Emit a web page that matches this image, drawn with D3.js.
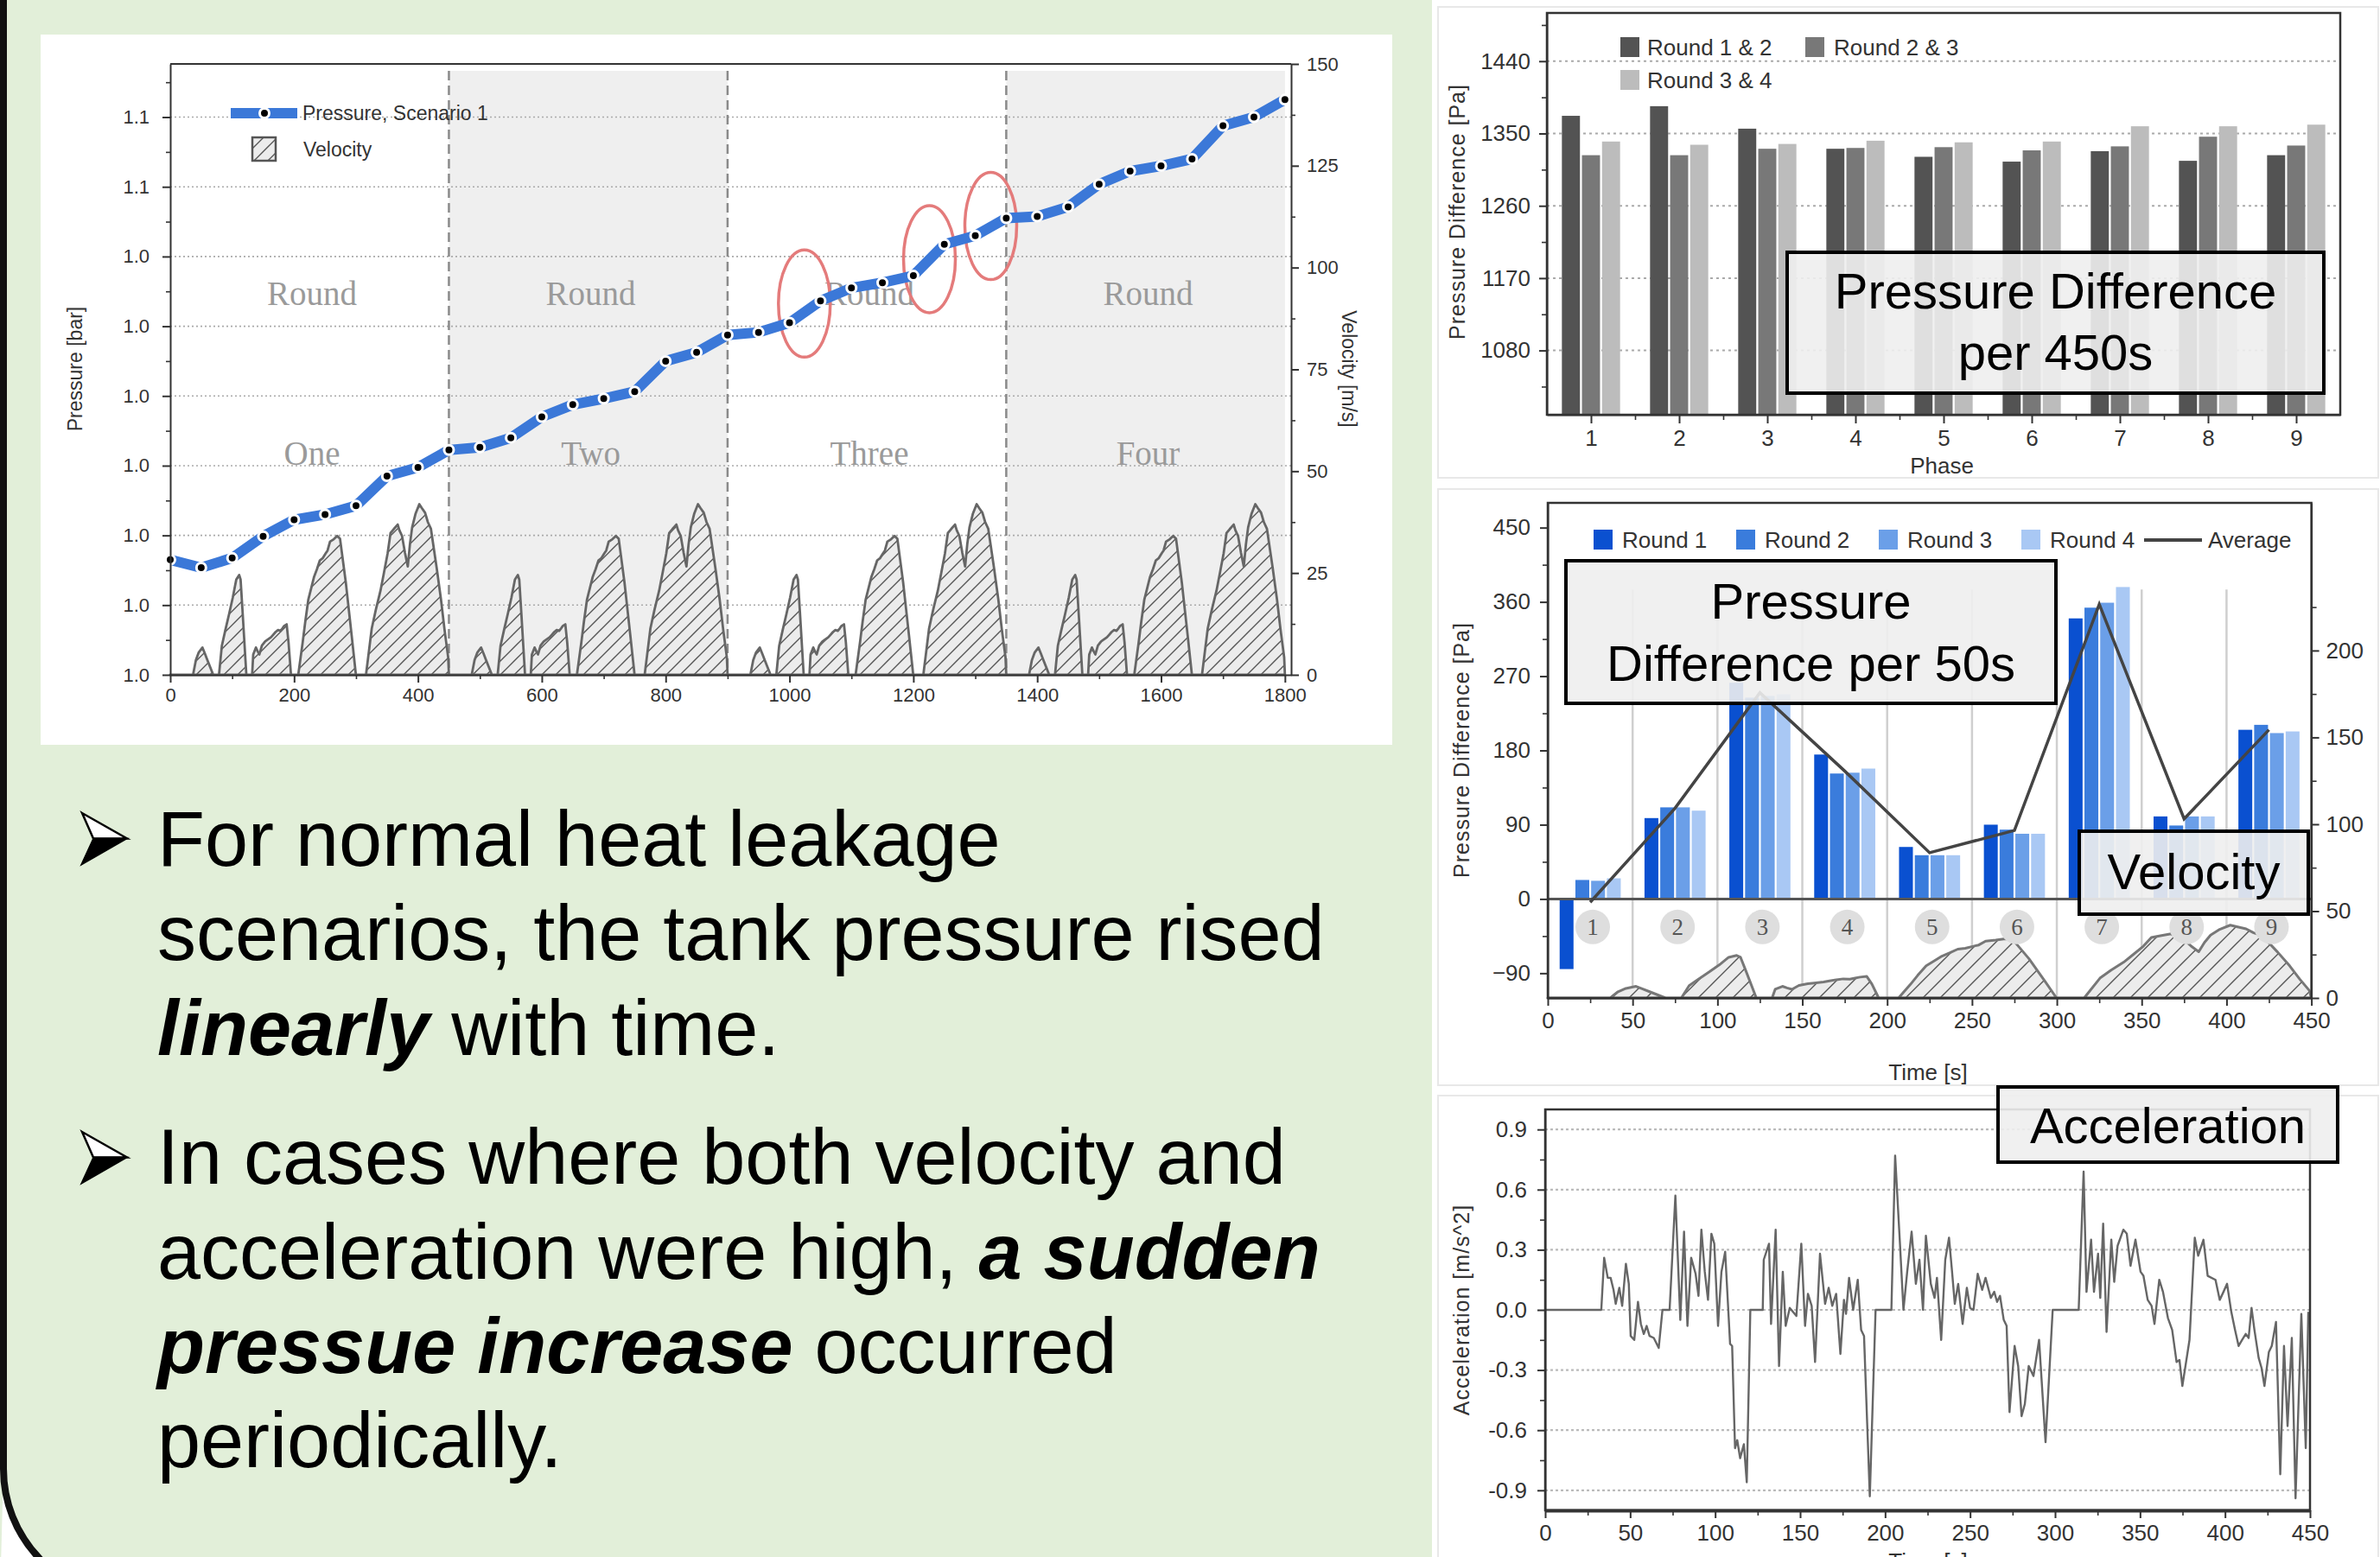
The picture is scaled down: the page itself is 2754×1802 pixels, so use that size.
<!DOCTYPE html>
<meta charset="UTF-8">
<html>
<head>
<style>
html, body {
  margin:0;
  padding:0;
  background:#fff;
}
svg {
  display:block;
}
</style>
</head>
<body>
<svg width="2754" height="1802"></svg>
<script src="https://d3js.org/d3.v7.min.js"></script>
<script>
var SANS = "'Liberation Sans', Arial, Helvetica, sans-serif";
var SERIF = "'Liberation Serif', 'Times New Roman', serif";

// ---- main chart: pressure (scenario 1) + velocity ----
var pressureTime = [0,50,100,150,200,250,300,350,400,450,500,550,600,650,700,750,800,850,900,
  950,1000,1050,1100,1150,1200,1250,1300,1350,1400,1450,1500,1550,1600,1650,1700,1750,1800];
var pressureBar = [1.0132,1.0123,1.0134,1.0159,1.0178,1.0184,1.0194,1.0228,1.0238,1.0258,
  1.0261,1.0272,1.0296,1.0310,1.0317,1.0325,1.0360,1.0370,1.0390,
  1.0393,1.0404,1.0429,1.0444,1.0450,1.0458,1.0494,1.0504,1.0524,
  1.0526,1.0537,1.0563,1.0578,1.0584,1.0592,1.0630,1.0640,1.0660];
var pressureTicks = [1.000,1.008,1.016,1.024,1.032,1.040,1.048,1.056,1.064];
var pressureTickLabels = ["1.0","1.0","1.0","1.0","1.0","1.0","1.0","1.1","1.1"];
var velocityTicks = [0,25,50,75,100,125,150];
var mainXTicks = [0,200,400,600,800,1000,1200,1400,1600,1800];
var roundStarts = [0,450,900,1350];
var roundNames = ["One","Two","Three","Four"];
// one round of the velocity profile [s, m/s]; every round repeats it
var velocityProfile = [[0,0],[36.8,0],[41.4,3.6],[46,5.5],[52,6.7],[56,5.2],[60,3.6],[69.4,0],
  [78.7,0],[83.3,7.1],[89,11],[95,14.9],[101,19],[106.6,23.4],[111.3,24.5],[113.6,23.4],[117,15],[122.9,0],
  [132.2,0],[134,5],[138.3,6.7],[141,5.8],[143.9,5.0],[148,7.2],[153.2,8.2],[157,8.6],[162.5,9.2],[166,9.8],
  [170,10.5],[174.1,11],[178,10.8],[181.1,11.4],[184,12],[188,12.4],[191,8],[195,0],
  [206.7,0],[213.7,7.8],[218,13],[223,18.5],[228,21.5],[232.3,24.1],[237,26],[241.6,28.1],[246,28.6],
  [250.9,29.8],[254,30.5],[258,32.7],[264,33.3],[269.6,34.1],[274.2,33.4],[283.5,22.7],[292.8,9.9],[299.8,0],
  [316.1,0],[325.4,11.4],[332,16],[339.4,20.6],[345,25],[351,29.8],[355.7,34.8],[361,35.8],[367.3,36.9],
  [370,35.5],[374.3,34.1],[379,30],[383.6,26.6],[387,32],[390.6,36.2],[396,39.5],[402.2,41.9],[406,41],
  [411.5,39.8],[416,37.5],[420.9,35.9],[430.2,26.3],[437.2,18.5],[443,11],[448.8,4.3],[450,0]];
// highlighted jumps (centre time, centre pressure)
var jumpTime = [1024,1226,1325];
var jumpBar = [1.0426,1.0477,1.0515];

// ---- top right: pressure difference per 450 s ----
var phases = [1,2,3,4,5,6,7,8,9];
var diff12 = [1372,1384,1356,1331,1321,1315,1328,1316,1323];
var diff23 = [1323,1323,1331,1332,1333,1329,1334,1346,1335];
var diff34 = [1340,1336,1337,1341,1339,1340,1359,1359,1361];
var pairNames = ["Round 1 & 2","Round 2 & 3","Round 3 & 4"];
var pairColors = ["#535353","#787878","#bcbcbc"];
var diffTicks = [1080,1170,1260,1350,1440];

// ---- middle right: pressure difference per 50 s ----
var phaseCentre = [25,75,125,175,225,275,325,375,425];
var round1 = [-85,98,262,175,63,90,340,100,205];
var round2 = [23,111,244,152,53,84,353,89,211];
var round3 = [22,111,246,153,53,79,359,100,201];
var round4 = [25,107,248,158,53,79,378,100,203];
var average = [-4,110,250,155,56,83,357,97,205];
var roundLabels = ["Round 1","Round 2","Round 3","Round 4"];
var roundColors = ["#0a50d0","#3a7cdc","#6b9fe8","#a9c8f4"];
var diff50Ticks = [-90,0,90,180,270,360,450];
var vel2Ticks = [0,50,100,150,200];
var timeTicks = [0,50,100,150,200,250,300,350,400,450];

// ---- bottom right: acceleration [s, m/s^2] ----
var accel = [[0,0],[33,0],[34.7,0.26],[36.8,0.16],[38.5,0.16],[40.2,0.10],[41.5,0.03],[43.6,0.11],[45.3,0.02],
  [47.5,0.23],[49.2,0.13],[50.3,-0.13],[52.4,-0.15],[54.6,0.04],[56.3,-0.07],[58,-0.12],[59.7,-0.08],[61.4,-0.13],
  [63.9,-0.14],[66.8,-0.19],[69,0],[73.2,0],[76.6,0.57],[79.5,-0.05],[81.7,0.39],[83.7,-0.08],[85.9,0.26],
  [88.5,0.18],[90.2,0.07],[91.9,0.40],[93.9,0.19],[95.8,0.05],[97.8,0.38],[99.5,0.33],[101.7,-0.08],[103.7,0.19],
  [105.9,0.29],[108.8,-0.17],[110,-0.18],[111.7,-0.69],[113,-0.65],[114.7,-0.74],[116.9,-0.67],[118.6,-0.86],
  [120.7,0],[128,0],[128.6,0.25],[131.7,0.33],[132.9,-0.07],[135.6,0.40],[137.6,-0.28],[139.8,0.19],[141.5,-0.08],
  [143.9,0.01],[147.8,-0.03],[150.7,0.33],[152.9,-0.08],[154.6,0.08],[156.8,0.02],[158.8,-0.26],[161.7,0.28],
  [164.7,0.03],[166.8,0.11],[168.9,0.02],[171.2,0.08],[173.7,-0.22],[175.8,0.05],[177,-0.02],[178.8,0.16],
  [181.2,0],[183.9,0.15],[185.9,-0.10],[187.6,-0.13],[191,-0.93],[194.4,0],[203.7,0],[205.9,0.77],[208.8,0.32],
  [210.8,0],[213,0.19],[215.6,0.39],[218.1,0.13],[220.2,0.25],[222.3,0],[224,0.37],[226.9,0.13],[229.1,0.06],
  [230.5,0.16],[233,-0.15],[235.4,0.25],[237.6,0.36],[239.3,0.20],[241,0.03],[243,0.13],[245.6,-0.07],[248.1,0.11],
  [250,0.01],[252,0],[254.5,0.18],[257.1,0.10],[259.1,0.16],[262.2,0.06],[264.2,0.09],[265.9,0.04],[267.6,0.07],
  [269.8,-0.05],[271.5,-0.08],[273.2,-0.51],[276.2,-0.18],[278.3,-0.28],[280.3,-0.53],[282.2,-0.47],[284.5,-0.28],
  [287.3,-0.33],[290.6,-0.15],[294.4,-0.66],[298.6,0],[313.9,0],[316.8,0.69],[318.5,0.09],[321.2,0.35],[322.9,0.09],
  [325.3,0.28],[326.6,0.06],[328.3,0.43],[330.3,-0.11],[333.1,0.35],[334.8,0.14],[336.8,0.32],[340.2,0.40],
  [342.2,0.38],[344.4,0.22],[347.3,0.35],[350.3,0.19],[352,0.17],[354.5,0.05],[356.8,0.02],[358.5,-0.07],
  [361.3,0.15],[363.5,0.09],[366.4,-0.04],[368.9,-0.10],[371.5,-0.26],[373.2,-0.25],[374.9,-0.38],[379.1,-0.15],
  [382.2,0.36],[384.2,0.27],[387.3,0.35],[389.8,0.17],[394.4,0.15],[396.9,0.05],[399.1,0.09],[401.2,0.13],
  [403.7,-0.01],[405.9,-0.10],[408,-0.18],[410,-0.15],[412.2,-0.12],[413.9,-0.14],[415.6,0.01],[417.3,-0.10],
  [419.8,-0.24],[421.5,-0.29],[423.2,-0.38],[425.8,-0.21],[427.5,-0.18],[430,-0.06],[432.5,-0.82],[434.7,-0.18],
  [436.8,-0.58],[439.3,-0.14],[441.5,-0.94],[444.9,-0.02],[447.5,-0.69],[449,-0.01]];
var accelTicks = [-0.9,-0.6,-0.3,0,0.3,0.6,0.9];

var svg = d3.select("svg");
var plain = d3.format("d");

// hatch patterns for the velocity areas
var defs = svg.append("defs");
function hatch(id, s) {
  var p = defs.append("pattern").attr("id", id).attr("patternUnits", "userSpaceOnUse")
    .attr("width", s).attr("height", s);
  p.append("rect").attr("width", s).attr("height", s).attr("fill", "#ececec");
  p.append("path").attr("d", "M-2,2 l4,-4 M0," + s + " l" + s + ",-" + s + " M" + (s - 2) + "," + (s + 2) + " l4,-4")
    .attr("stroke", "#555").attr("stroke-width", 1.4);
}
hatch("hatch", 16);
hatch("hatch2", 20);

function addAxis(axis, x, y, fs) {
  var g = svg.append("g").attr("transform", "translate(" + x + "," + y + ")").call(axis.tickSizeOuter(0));
  g.attr("font-family", SANS).attr("font-size", fs);
  g.select(".domain").attr("stroke", "#333").attr("stroke-width", 2);
  g.selectAll(".tick line").attr("stroke", "#333").attr("stroke-width", 2);
  g.selectAll(".tick text").attr("fill", "#333");
  return g;
}
function addMinor(axis, x, y) {
  var g = svg.append("g").attr("transform", "translate(" + x + "," + y + ")").call(axis.tickFormat(""));
  g.select(".domain").remove();
  g.selectAll(".tick line").attr("stroke", "#333").attr("stroke-width", 1.6);
}
function midpoints(a) {
  var out = [];
  for (var i = 0; i < a.length - 1; i++) out.push((a[i] + a[i + 1]) / 2);
  return out;
}
function labelBox(x, y, w, h, lines, baselines) {
  svg.append("rect").attr("x", x).attr("y", y).attr("width", w).attr("height", h)
    .attr("fill", "rgba(238,238,238,0.9)").attr("stroke", "#000").attr("stroke-width", 4);
  lines.forEach(function(t, i) {
    svg.append("text").attr("x", x + w / 2).attr("y", baselines[i]).attr("text-anchor", "middle")
      .attr("font-family", SANS).attr("font-size", 58).attr("fill", "#000").text(t);
  });
}

// ---------- backgrounds ----------
svg.append("rect").attr("width", 2754).attr("height", 1802).attr("fill", "#fff");
svg.append("path").attr("d", "M4,0 H1657 V1802 H0 V1700 Z").attr("fill", "#e2efd9");
svg.append("path").attr("d", "M4,1700 A150,150 0 0 0 154,1850 H0 Z").attr("fill", "#fff");
svg.append("path").attr("d", "M4,0 V1700 A150,150 0 0 0 154,1850")
  .attr("fill", "none").attr("stroke", "#111").attr("stroke-width", 8);
[[1664,8,1088,545],[1664,566,1088,690],[1664,1268,1088,560]].forEach(function(r) {
  svg.append("rect").attr("x", r[0]).attr("y", r[1]).attr("width", r[2]).attr("height", r[3])
    .attr("fill", "#fff").attr("stroke", "#e8e8e8").attr("stroke-width", 2);
});

// ---------- main chart ----------
svg.append("rect").attr("x", 47).attr("y", 40).attr("width", 1564).attr("height", 822).attr("fill", "#fff");
var mx = d3.scaleLinear().domain([0, 1810]).range([197, 1494]);
var mp = d3.scaleLinear().domain([1.0, 1.0701]).range([781, 74]);
var mv = d3.scaleLinear().domain([0, 150]).range([781, 74]);

[450, 1350].forEach(function(s) {
  svg.append("rect").attr("x", mx(s)).attr("y", 82).attr("width", mx(Math.min(s + 450, 1810)) - mx(s))
    .attr("height", mv(0) - 82).attr("fill", "#efefef");
});
svg.append("g").selectAll("line").data(pressureTicks.slice(1)).join("line")
  .attr("x1", mx(0)).attr("x2", mx(1810)).attr("y1", mp).attr("y2", mp)
  .attr("stroke", "#aaa").attr("stroke-width", 1.6).attr("stroke-dasharray", "2,3");
svg.append("g").selectAll("line").data(roundStarts.slice(1)).join("line")
  .attr("x1", mx).attr("x2", mx).attr("y1", 82).attr("y2", mv(0))
  .attr("stroke", "#8a8a8a").attr("stroke-width", 2.5).attr("stroke-dasharray", "11,6");
roundStarts.forEach(function(s, i) {
  var cx = mx(s + 229);
  svg.append("text").attr("x", cx).attr("y", 353).attr("text-anchor", "middle")
    .attr("font-family", SERIF).attr("font-size", 39).attr("fill", "#9a9a9a").text("Round");
  svg.append("text").attr("x", cx).attr("y", 538).attr("text-anchor", "middle")
    .attr("font-family", SERIF).attr("font-size", 39).attr("fill", "#9a9a9a").text(roundNames[i]);
});

var velocityAll = [];
roundStarts.forEach(function(s) {
  velocityProfile.forEach(function(d) { velocityAll.push([s + d[0], d[1]]); });
});
svg.append("path").datum(velocityAll)
  .attr("d", d3.area().x(function(d) { return mx(d[0]); }).y0(mv(0)).y1(function(d) { return mv(d[1]); }))
  .attr("fill", "url(#hatch)").attr("stroke", "#666").attr("stroke-width", 2.8).attr("stroke-linejoin", "round");

svg.append("g").selectAll("ellipse").data(jumpTime).join("ellipse")
  .attr("cx", function(d) { return mx(d); }).attr("cy", function(d, i) { return mp(jumpBar[i]); })
  .attr("rx", 30).attr("ry", 62).attr("fill", "none").attr("stroke", "#e47b7b").attr("stroke-width", 3.5);

var pressurePts = pressureTime.map(function(t, i) { return [t, pressureBar[i]]; });
svg.append("path").datum(pressurePts)
  .attr("d", d3.line().x(function(d) { return mx(d[0]); }).y(function(d) { return mp(d[1]); }))
  .attr("fill", "none").attr("stroke", "#3b78d8").attr("stroke-width", 12);
svg.append("g").selectAll("circle").data(pressurePts).join("circle")
  .attr("cx", function(d) { return mx(d[0]); }).attr("cy", function(d) { return mp(d[1]); })
  .attr("r", 5.5).attr("fill", "#000").attr("stroke", "#fff").attr("stroke-width", 3);

svg.append("line").attr("x1", mx(0)).attr("x2", mx(1810)).attr("y1", 74).attr("y2", 74)
  .attr("stroke", "#333").attr("stroke-width", 2);
addAxis(d3.axisBottom(mx).tickValues(mainXTicks).tickFormat(plain).tickSize(9).tickPadding(6), 0, 781, 22);
addMinor(d3.axisBottom(mx).tickValues(midpoints(mainXTicks)).tickSize(5), 0, 781);
addAxis(d3.axisLeft(mp).tickValues(pressureTicks).tickFormat(function(d, i) { return pressureTickLabels[i]; })
  .tickSize(9).tickPadding(15), 197, 0, 22);
addMinor(d3.axisLeft(mp).tickValues(midpoints(pressureTicks).concat([1.068])).tickSize(5), 197, 0);
addAxis(d3.axisRight(mv).tickValues(velocityTicks).tickFormat(plain).tickSize(9).tickPadding(9), mx(1810), 0, 22);
addMinor(d3.axisRight(mv).tickValues(midpoints(velocityTicks)).tickSize(5), mx(1810), 0);
svg.append("text").attr("transform", "translate(95,427) rotate(-90)").attr("text-anchor", "middle")
  .attr("font-family", SANS).attr("font-size", 23).attr("fill", "#333").text("Pressure [bar]");
svg.append("text").attr("transform", "translate(1553,427) rotate(90)").attr("text-anchor", "middle")
  .attr("font-family", SANS).attr("font-size", 23).attr("fill", "#333").text("Velocity [m/s]");

// legend
svg.append("line").attr("x1", 267).attr("x2", 344).attr("y1", 131).attr("y2", 131)
  .attr("stroke", "#3b78d8").attr("stroke-width", 12);
svg.append("circle").attr("cx", 306).attr("cy", 131).attr("r", 5.5).attr("fill", "#000")
  .attr("stroke", "#fff").attr("stroke-width", 3);
svg.append("text").attr("x", 350).attr("y", 139).attr("font-family", SANS).attr("font-size", 23)
  .attr("fill", "#333").text("Pressure, Scenario 1");
svg.append("rect").attr("x", 292).attr("y", 159).attr("width", 27).attr("height", 27)
  .attr("fill", "url(#hatch)").attr("stroke", "#555").attr("stroke-width", 2.5);
svg.append("text").attr("x", 351).attr("y", 181).attr("font-family", SANS).attr("font-size", 23)
  .attr("fill", "#333").text("Velocity");

// ---------- bullet text ----------
function bullet(x, y) {
  var g = svg.append("g").attr("transform", "translate(" + x + "," + y + ")");
  g.append("path").attr("d", "M2,2 L54,31.5 L15,31.5 Z").attr("fill", "#fff").attr("stroke", "#000")
    .attr("stroke-width", 2.5).attr("stroke-linejoin", "miter");
  g.append("path").attr("d", "M15,31.5 L54,31.5 L1,62 Z").attr("fill", "#000").attr("stroke", "#000")
    .attr("stroke-width", 1.5);
}
bullet(93, 939);
bullet(93, 1308);
var textLines = [
  [1002, [["For normal heat leakage", false]]],
  [1111, [["scenarios, the tank pressure rised", false]]],
  [1221, [["linearly", true], [" with time.", false]]],
  [1370, [["In cases where both velocity and", false]]],
  [1480, [["acceleration were high, ", false], ["a sudden", true]]],
  [1589, [["pressue increase", true], [" occurred", false]]],
  [1698, [["periodically.", false]]]
];
textLines.forEach(function(l) {
  var t = svg.append("text").attr("x", 182).attr("y", l[0]).attr("font-family", SANS)
    .attr("font-size", 90).attr("fill", "#000").attr("xml:space", "preserve").style("white-space", "pre");
  l[1].forEach(function(p) {
    var s = t.append("tspan").text(p[0]);
    if (p[1]) s.attr("font-weight", "bold").attr("font-style", "italic");
  });
});

// ---------- top right: per 450 s ----------
var tx = d3.scaleLinear().domain([0.5, 9.5]).range([1790, 2708]);
var ty = d3.scaleLinear().domain([1000, 1500]).range([480, 15]);
var pairBand = d3.scaleBand().domain([0, 1, 2]).range([-0.33, 0.33]).paddingInner(0.1);
svg.append("g").selectAll("line").data(diffTicks).join("line")
  .attr("x1", tx(0.5)).attr("x2", tx(9.5)).attr("y1", ty).attr("y2", ty)
  .attr("stroke", "#aaa").attr("stroke-width", 2).attr("stroke-dasharray", "3,4");
[diff12, diff23, diff34].forEach(function(series, k) {
  svg.append("g").selectAll("rect").data(series).join("rect")
    .attr("x", function(d, i) { return tx(phases[i] + pairBand(k)); })
    .attr("width", tx(pairBand.bandwidth()) - tx(0))
    .attr("y", function(d) { return ty(d); })
    .attr("height", function(d) { return ty(1000) - ty(d); })
    .attr("fill", pairColors[k]);
});
svg.append("rect").attr("x", tx(0.5)).attr("y", ty(1500)).attr("width", tx(9.5) - tx(0.5))
  .attr("height", ty(1000) - ty(1500)).attr("fill", "none").attr("stroke", "#333").attr("stroke-width", 2.5);
addAxis(d3.axisBottom(tx).tickValues(phases).tickFormat(plain).tickSize(10).tickPadding(8), 0, ty(1000), 26);
addMinor(d3.axisBottom(tx).tickValues(midpoints(phases)).tickSize(6), 0, ty(1000));
addAxis(d3.axisLeft(ty).tickValues(diffTicks).tickFormat(plain).tickSize(9).tickPadding(10), tx(0.5), 0, 26);
addMinor(d3.axisLeft(ty).tickValues([1035, 1125, 1215, 1305, 1395, 1485]).tickSize(6), tx(0.5), 0);
svg.append("text").attr("transform", "translate(1695,245) rotate(-90)").attr("text-anchor", "middle")
  .attr("font-family", SANS).attr("font-size", 25).attr("letter-spacing", 1).attr("fill", "#333")
  .text("Pressure Difference [Pa]");
svg.append("text").attr("x", 2247).attr("y", 548).attr("text-anchor", "middle")
  .attr("font-family", SANS).attr("font-size", 26).attr("fill", "#333").text("Phase");
[[1875, 43, 1906, 64], [2089, 43, 2122, 64], [1875, 81, 1906, 102]].forEach(function(p, k) {
  svg.append("rect").attr("x", p[0]).attr("y", p[1]).attr("width", 22).attr("height", 23).attr("fill", pairColors[k]);
  svg.append("text").attr("x", p[2]).attr("y", p[3]).attr("font-family", SANS).attr("font-size", 26)
    .attr("fill", "#333").text(pairNames[k]);
});
labelBox(2068, 292, 621, 163, ["Pressure Difference", "per 450s"], [357, 428]);

// ---------- middle right: per 50 s ----------
var bx = d3.scaleLinear().domain([0, 450]).range([1791, 2674.6]);
var by = d3.scaleLinear().domain([-120, 480]).range([1155, 582]);
var bvy = d3.scaleLinear().domain([0, 285]).range([1155, 582]);
var roundBand = d3.scaleBand().domain([0, 1, 2, 3]).range([-18, 18]).paddingInner(0.12);

svg.append("g").selectAll("line").data([50, 100, 150, 200, 250, 300, 350, 400]).join("line")
  .attr("x1", bx).attr("x2", bx).attr("y1", by(375)).attr("y2", by(-120))
  .attr("stroke", "#cfcfcf").attr("stroke-width", 2.5);
svg.append("path").datum(velocityProfile)
  .attr("d", d3.area().x(function(d) { return bx(d[0]); }).y0(bvy(0)).y1(function(d) { return bvy(d[1]); }))
  .attr("fill", "url(#hatch2)").attr("stroke", "#777").attr("stroke-width", 3).attr("stroke-linejoin", "round");
svg.append("g").selectAll("circle").data(phaseCentre).join("circle")
  .attr("cx", function(d) { return bx(d + 1.5); }).attr("cy", by(-34)).attr("r", 20).attr("fill", "#dedede");
svg.append("g").selectAll("text").data(phaseCentre).join("text")
  .attr("x", function(d) { return bx(d + 1.5); }).attr("y", by(-34) + 9).attr("text-anchor", "middle")
  .attr("font-family", SERIF).attr("font-size", 27).attr("fill", "#555")
  .text(function(d, i) { return phases[i]; });
[round1, round2, round3, round4].forEach(function(series, k) {
  svg.append("g").selectAll("rect").data(series).join("rect")
    .attr("x", function(d, i) { return bx(phaseCentre[i] + roundBand(k)); })
    .attr("width", bx(roundBand.bandwidth()) - bx(0))
    .attr("y", function(d) { return by(Math.max(d, 0)); })
    .attr("height", function(d) { return Math.abs(by(d) - by(0)); })
    .attr("fill", roundColors[k]);
});
svg.append("line").attr("x1", bx(0)).attr("x2", bx(450)).attr("y1", by(0)).attr("y2", by(0))
  .attr("stroke", "#555").attr("stroke-width", 3);
svg.append("path").datum(average)
  .attr("d", d3.line().x(function(d, i) { return bx(phaseCentre[i]); }).y(function(d) { return by(d); }))
  .attr("fill", "none").attr("stroke", "#444").attr("stroke-width", 3.5);
svg.append("rect").attr("x", bx(0)).attr("y", by(480)).attr("width", bx(450) - bx(0))
  .attr("height", by(-120) - by(480)).attr("fill", "none").attr("stroke", "#333").attr("stroke-width", 2.5);
addAxis(d3.axisBottom(bx).tickValues(timeTicks).tickFormat(plain).tickSize(9).tickPadding(8), 0, by(-120), 26);
addMinor(d3.axisBottom(bx).tickValues(midpoints(timeTicks)).tickSize(6), 0, by(-120));
addAxis(d3.axisLeft(by).tickValues(diff50Ticks).tickFormat(plain).tickSize(9).tickPadding(11), bx(0), 0, 26);
addMinor(d3.axisLeft(by).tickValues(midpoints(diff50Ticks)).tickSize(6), bx(0), 0);
addAxis(d3.axisRight(bvy).tickValues(vel2Ticks).tickFormat(plain).tickSize(9).tickPadding(8), bx(450), 0, 26);
addMinor(d3.axisRight(bvy).tickValues([25, 75, 125, 175, 225]).tickSize(6), bx(450), 0);
svg.append("text").attr("transform", "translate(1700,868) rotate(-90)").attr("text-anchor", "middle")
  .attr("font-family", SANS).attr("font-size", 25).attr("letter-spacing", 1).attr("fill", "#333")
  .text("Pressure Difference [Pa]");
svg.append("text").attr("x", 2231).attr("y", 1250).attr("text-anchor", "middle")
  .attr("font-family", SANS).attr("font-size", 26).attr("fill", "#333").text("Time [s]");
[1844, 2009, 2174, 2339].forEach(function(x, k) {
  svg.append("rect").attr("x", x).attr("y", 613).attr("width", 22).attr("height", 23).attr("fill", roundColors[k]);
  svg.append("text").attr("x", x + 33).attr("y", 634).attr("font-family", SANS).attr("font-size", 26)
    .attr("fill", "#333").text(roundLabels[k]);
});
svg.append("line").attr("x1", 2481).attr("x2", 2548).attr("y1", 625).attr("y2", 625)
  .attr("stroke", "#444").attr("stroke-width", 4);
svg.append("text").attr("x", 2555).attr("y", 634).attr("font-family", SANS).attr("font-size", 26)
  .attr("fill", "#333").text("Average");
labelBox(1812, 649, 567, 165, ["Pressure", "Difference per 50s"], [716, 788]);
labelBox(2406, 962, 265, 96, ["Velocity"], [1029]);

// ---------- bottom right: acceleration ----------
var ax = d3.scaleLinear().domain([0, 450]).range([1788, 2673]);
var ay = d3.scaleLinear().domain([-1, 1]).range([1748, 1284]);
svg.append("g").selectAll("line").data(accelTicks).join("line")
  .attr("x1", ax(0)).attr("x2", ax(450)).attr("y1", ay).attr("y2", ay)
  .attr("stroke", "#bbb").attr("stroke-width", 2.2).attr("stroke-dasharray", "3,3");
svg.append("path").datum(accel)
  .attr("d", d3.line().x(function(d) { return ax(d[0]); }).y(function(d) { return ay(d[1]); }))
  .attr("fill", "none").attr("stroke", "#666").attr("stroke-width", 2.4).attr("stroke-linejoin", "round");
svg.append("rect").attr("x", ax(0)).attr("y", ay(1)).attr("width", ax(450) - ax(0))
  .attr("height", ay(-1) - ay(1)).attr("fill", "none").attr("stroke", "#333").attr("stroke-width", 2.5);
addAxis(d3.axisBottom(ax).tickValues(timeTicks).tickFormat(plain).tickSize(9).tickPadding(8), 0, ay(-1), 26)
  .select(".domain").attr("stroke-width", 4);
addMinor(d3.axisBottom(ax).tickValues(midpoints(timeTicks)).tickSize(6), 0, ay(-1));
addAxis(d3.axisLeft(ay).tickValues(accelTicks).tickFormat(function(d) { return d.toFixed(1); })
  .tickSize(9).tickPadding(12), ax(0), 0, 26);
addMinor(d3.axisLeft(ay).tickValues(midpoints(accelTicks)).tickSize(6), ax(0), 0);
svg.append("text").attr("transform", "translate(1700,1516) rotate(-90)").attr("text-anchor", "middle")
  .attr("font-family", SANS).attr("font-size", 25).attr("letter-spacing", 1).attr("fill", "#333")
  .text("Acceleration [m/s^2]");
// axis title sits at the lower edge, partly cut off as in the source
svg.append("text").attr("x", 2231).attr("y", 1816).attr("text-anchor", "middle")
  .attr("font-family", SANS).attr("font-size", 26).attr("fill", "#333").text("Time [s]");
labelBox(2312, 1258, 393, 87, ["Acceleration"], [1323]);
</script>
</body>
</html>
